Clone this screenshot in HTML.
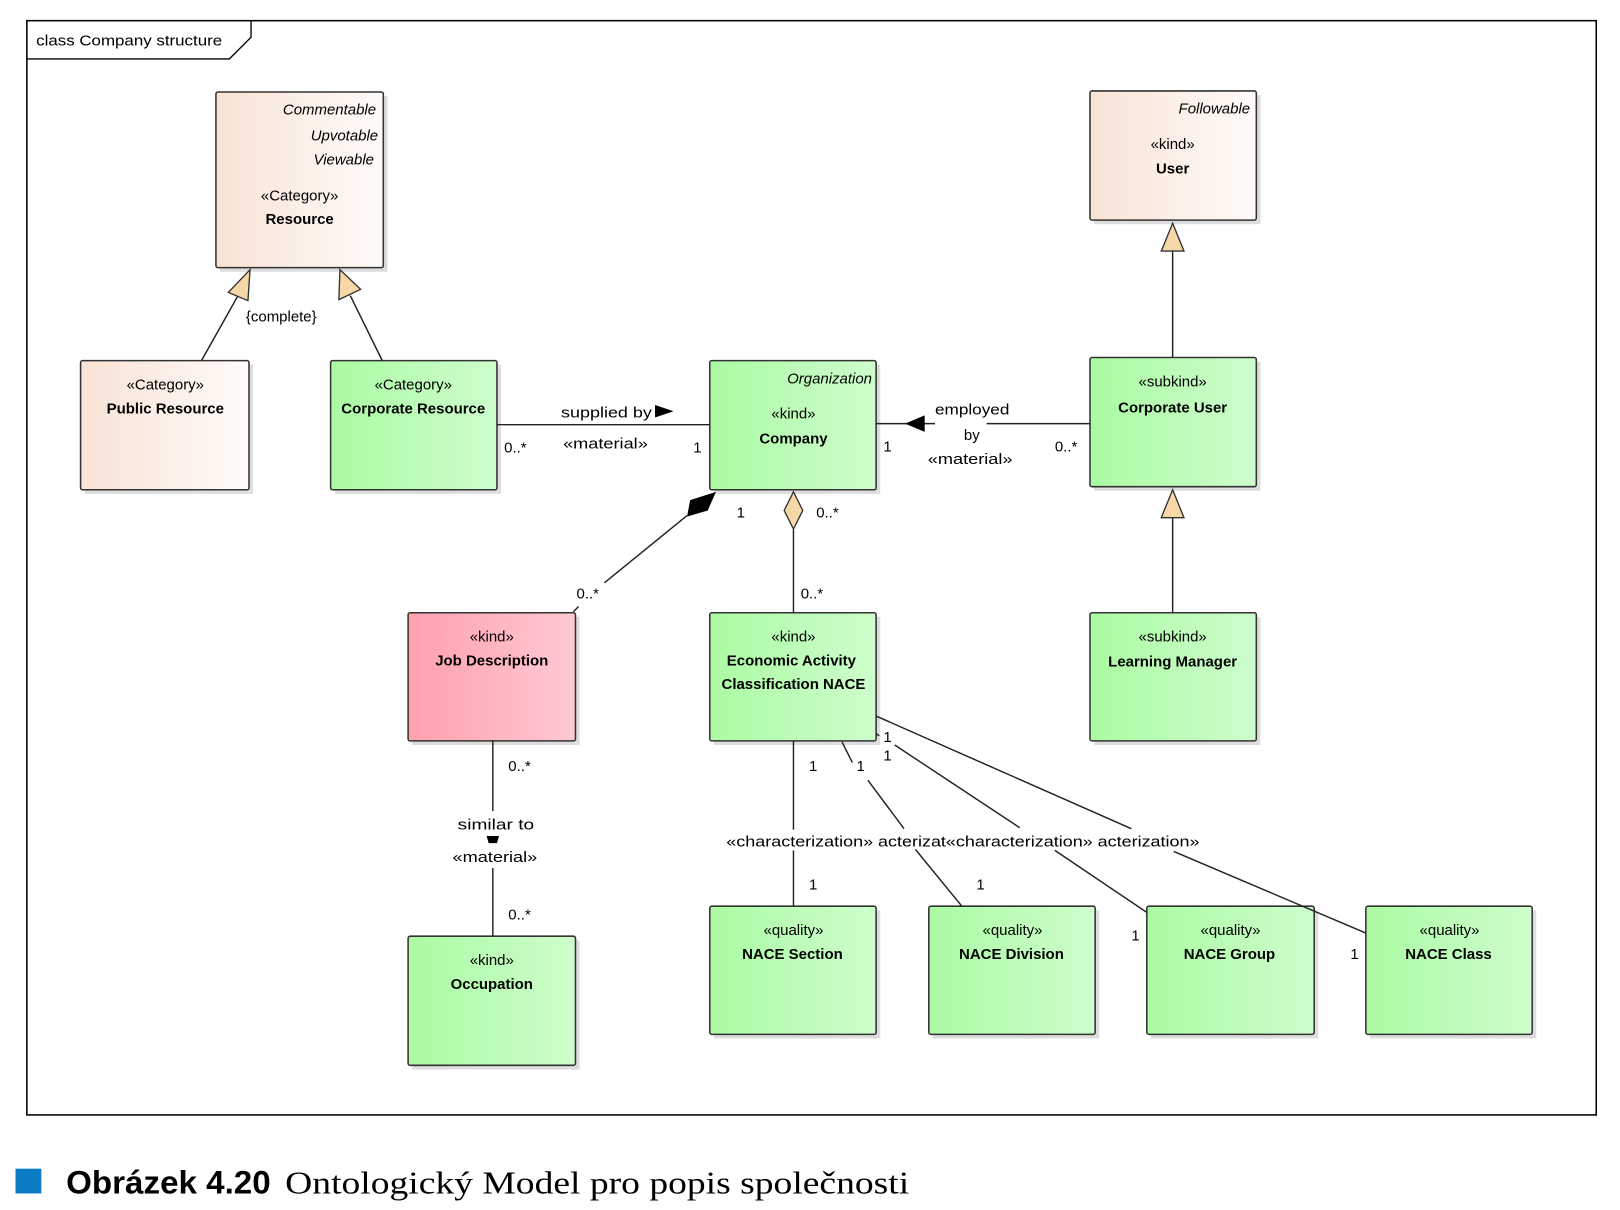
<!DOCTYPE html>
<html><head><meta charset="utf-8"><style>
html,body{margin:0;padding:0;background:#fff;}
svg{display:block}
</style></head><body>
<svg width="1620" height="1210" viewBox="0 0 1568 1171" preserveAspectRatio="none" xmlns="http://www.w3.org/2000/svg" style="font-family:'Liberation Sans','DejaVu Sans',sans-serif">
<defs>
<linearGradient id="g" x1="0" x2="1" y1="0" y2="0"><stop offset="0" stop-color="#abfba3"/><stop offset="1" stop-color="#cdfdcc"/></linearGradient>
<linearGradient id="b" x1="0" x2="1" y1="0" y2="0"><stop offset="0" stop-color="#f8e3d5"/><stop offset="1" stop-color="#fffbf9"/></linearGradient>
<linearGradient id="p" x1="0" x2="1" y1="0" y2="0"><stop offset="0" stop-color="#ffa0ad"/><stop offset="1" stop-color="#ffc9d3"/></linearGradient>
</defs>
<rect x="26" y="20" width="1519" height="1059" fill="#fff" stroke="#000" stroke-width="1.5"/>
<path d="M26 57 L222 57 L243 36 L243 20" fill="none" stroke="#000" stroke-width="1.3"/>
<text x="35" y="44" font-size="14.5" textLength="180" lengthAdjust="spacingAndGlyphs">class Company structure</text>

<g stroke="#333" stroke-width="1.5">
<g fill="#ddd" stroke="none">
<rect x="213" y="93" width="162" height="170"/><rect x="82" y="353" width="163" height="125"/><rect x="324" y="353" width="161" height="125"/>
<rect x="691" y="353" width="161" height="125"/><rect x="1059" y="92" width="161" height="125"/><rect x="1059" y="350" width="161" height="125"/>
<rect x="1059" y="597" width="161" height="124"/><rect x="399" y="597" width="162" height="124"/><rect x="691" y="597" width="161" height="124"/>
<rect x="399" y="910" width="162" height="125"/><rect x="691" y="881" width="161" height="124"/><rect x="903" y="881" width="161" height="124"/>
<rect x="1114" y="881" width="162" height="124"/><rect x="1326" y="881" width="161" height="124"/>
</g>
<rect x="209" y="89" width="162" height="170" rx="2" fill="url(#b)"/>
<rect x="78" y="349" width="163" height="125" rx="2" fill="url(#b)"/>
<rect x="320" y="349" width="161" height="125" rx="2" fill="url(#g)"/>
<rect x="687" y="349" width="161" height="125" rx="2" fill="url(#g)"/>
<rect x="1055" y="88" width="161" height="125" rx="2" fill="url(#b)"/>
<rect x="1055" y="346" width="161" height="125" rx="2" fill="url(#g)"/>
<rect x="1055" y="593" width="161" height="124" rx="2" fill="url(#g)"/>
<rect x="395" y="593" width="162" height="124" rx="2" fill="url(#p)"/>
<rect x="687" y="593" width="161" height="124" rx="2" fill="url(#g)"/>
<rect x="395" y="906" width="162" height="125" rx="2" fill="url(#g)"/>
<rect x="687" y="877" width="161" height="124" rx="2" fill="url(#g)"/>
<rect x="899" y="877" width="161" height="124" rx="2" fill="url(#g)"/>
<rect x="1110" y="877" width="162" height="124" rx="2" fill="url(#g)"/>
<rect x="1322" y="877" width="161" height="124" rx="2" fill="url(#g)"/>
</g>

<g stroke="#222" stroke-width="1.4" fill="none">
<line x1="195" y1="349" x2="231" y2="285"/>
<line x1="370" y1="349" x2="339" y2="286"/>
<line x1="1135" y1="346" x2="1135" y2="242"/>
<line x1="1135" y1="593" x2="1135" y2="500"/>
<line x1="481" y1="411" x2="687" y2="411"/>
<line x1="848" y1="410" x2="905" y2="410"/>
<line x1="955" y1="410" x2="1055" y2="410"/>
<line x1="665" y1="499" x2="585" y2="564"/>
<line x1="560" y1="587" x2="555" y2="592"/>
<line x1="768" y1="512" x2="768" y2="593"/>
<line x1="477" y1="717" x2="477" y2="785"/>
<line x1="477" y1="840" x2="477" y2="906"/>
<line x1="768" y1="717" x2="768" y2="803"/>
<line x1="768" y1="823" x2="768" y2="877"/>
<line x1="815" y1="718" x2="825" y2="738"/>
<line x1="840" y1="755" x2="875" y2="802"/>
<line x1="886" y1="822" x2="931" y2="877"/>
<line x1="866" y1="721" x2="987" y2="801"/>
<line x1="1021" y1="823" x2="1110" y2="883"/>
<line x1="848" y1="693" x2="1095" y2="802"/>
<line x1="1136" y1="824" x2="1322" y2="903"/>
<line x1="848" y1="710" x2="851" y2="712"/>
</g>
<g stroke="#333" stroke-width="1.3" fill="#f6d8a8">
<polygon points="242,261 221,283 240,291"/>
<polygon points="329,261 328,290 349,280"/>
<polygon points="1135,216 1124,243 1146,243"/>
<polygon points="1135,474 1124,501 1146,501"/>
<polygon points="768,476 759,494 768,512 777,494"/>
</g>
<polygon points="693,476 668,484 665,500 685,494" fill="#000"/>
<polygon points="634,392 652,398 634,404" fill="#000"/>
<polygon points="876,410 895,402 895,418" fill="#000"/>
<polygon points="471,809 483,809 481,816 473,816" fill="#000"/>

<g font-size="14.5" text-anchor="middle" fill="#000">
<g font-style="italic" text-anchor="end"><text x="364" y="111">Commentable</text><text x="366" y="136">Upvotable</text><text x="362" y="159">Viewable</text>
<text x="844" y="371">Organization</text><text x="1210" y="110">Followable</text></g>
<text x="290" y="194">«Category»</text><text x="290" y="217" font-weight="bold">Resource</text>
<text x="160" y="377">«Category»</text><text x="160" y="400" font-weight="bold">Public Resource</text>
<text x="400" y="377">«Category»</text><text x="400" y="400" font-weight="bold">Corporate Resource</text>
<text x="768" y="405">«kind»</text><text x="768" y="429" font-weight="bold">Company</text>
<text x="1135" y="144">«kind»</text><text x="1135" y="168" font-weight="bold">User</text>
<text x="1135" y="374">«subkind»</text><text x="1135" y="399" font-weight="bold">Corporate User</text>
<text x="1135" y="621">«subkind»</text><text x="1135" y="645" font-weight="bold">Learning Manager</text>
<text x="476" y="621">«kind»</text><text x="476" y="644" font-weight="bold">Job Description</text>
<text x="768" y="621">«kind»</text><text x="766" y="644" font-weight="bold">Economic Activity</text><text x="768" y="667" font-weight="bold">Classification NACE</text>
<text x="476" y="934">«kind»</text><text x="476" y="957" font-weight="bold">Occupation</text>
<text x="768" y="905">«quality»</text><text x="767" y="928" font-weight="bold">NACE Section</text>
<text x="980" y="905">«quality»</text><text x="979" y="928" font-weight="bold">NACE Division</text>
<text x="1191" y="905">«quality»</text><text x="1190" y="928" font-weight="bold">NACE Group</text>
<text x="1403" y="905">«quality»</text><text x="1402" y="928" font-weight="bold">NACE Class</text>
</g>
<g font-size="14.5" fill="#000">
<text x="238" y="311">{complete}</text>
<text x="543" y="404" textLength="88" lengthAdjust="spacingAndGlyphs">supplied by</text><text x="545" y="434" textLength="82" lengthAdjust="spacingAndGlyphs">«material»</text>
<text x="488" y="438">0..*</text><text x="671" y="438">1</text>
<text x="905" y="401" textLength="72" lengthAdjust="spacingAndGlyphs">employed</text><text x="933" y="426">by</text><text x="898" y="449" textLength="82" lengthAdjust="spacingAndGlyphs">«material»</text>
<text x="855" y="437">1</text><text x="1021" y="437">0..*</text>
<text x="713" y="501">1</text><text x="790" y="501">0..*</text>
<text x="558" y="579">0..*</text><text x="775" y="579">0..*</text>
<text x="492" y="746">0..*</text><text x="443" y="803" textLength="74" lengthAdjust="spacingAndGlyphs">similar to</text><text x="438" y="834" textLength="82" lengthAdjust="spacingAndGlyphs">«material»</text><text x="492" y="890">0..*</text>
<text x="783" y="746">1</text><text x="829" y="746">1</text><text x="855" y="718">1</text><text x="855" y="736">1</text>
<text x="703" y="819" textLength="458" lengthAdjust="spacingAndGlyphs">«characterization» acterizat«characterization» acterization»</text>
<text x="783" y="861">1</text><text x="945" y="861">1</text><text x="1095" y="910">1</text><text x="1307" y="928">1</text>
</g>

<rect x="15" y="1131" width="25" height="24" fill="#0b7bc4"/>
<text x="64" y="1155" font-size="31" style="font-family:'Liberation Sans',sans-serif;font-weight:bold" textLength="198" lengthAdjust="spacingAndGlyphs">Obrázek 4.20</text>
<text x="276" y="1155" font-size="31" style="font-family:'Liberation Serif',serif" textLength="604" lengthAdjust="spacingAndGlyphs">Ontologický Model pro popis společnosti</text>
</svg>
</body></html>
